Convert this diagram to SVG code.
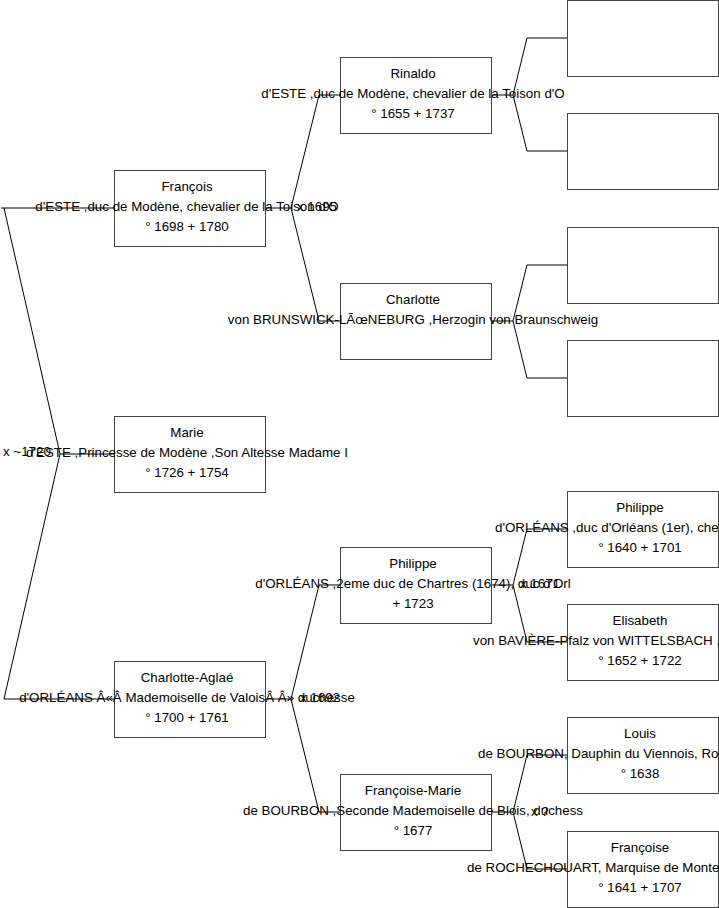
<svg xmlns="http://www.w3.org/2000/svg" width="719" height="908" viewBox="0 0 719 908">
<style>
.box{fill:#fff;stroke:#444;stroke-width:1}
.c{fill:none;stroke:#000;stroke-width:1}
text{font-family:"Liberation Sans",Arial,sans-serif;font-size:13.33px;fill:#000}
.m{text-anchor:middle}
</style>
<rect width="719" height="908" fill="#fff"/>
<g id="connectors">
<path class="c" d="M1,208H114M4,208L60,454L4,699H114M60,454H114"/>
<path class="c" d="M265,208H291M319,95L291,208L319,321M319,95H340M319,321H340"/>
<path class="c" d="M265,699H291M319,585L291,699L319,812M319,585H340M319,812H340"/>
<path class="c" d="M491,95H513M527,38L513,95L527,151M527,38H567M527,151H567"/>
<path class="c" d="M491,321H513M527,265L513,321L527,378M527,265H567M527,378H567"/>
<path class="c" d="M491,585H513M527,529L513,585L527,642M527,529H567M527,642H567"/>
<path class="c" d="M491,812H513M527,755L513,812L527,869M527,755H567M527,869H567"/>
</g>
<g id="marriages">
<text x="3" y="456">x ~1720</text>
<text x="297" y="211">x 1695</text>
<text x="300" y="702">x 1692</text>
<text x="520" y="588">x 1671</text>
<text x="531" y="816">x ?</text>
</g>
<g id="francois">
<rect class="box" x="114.5" y="170.5" width="151" height="76"/>
<text class="m" x="187" y="191">François</text>
<text class="m" x="187" y="211">d'ESTE ,duc de Modène, chevalier de la Toison d'O</text>
<text class="m" x="187" y="231">° 1698 + 1780</text>
</g>
<g id="marie">
<rect class="box" x="114.5" y="416.5" width="151" height="76"/>
<text class="m" x="187" y="437">Marie</text>
<text class="m" x="187" y="457">d'ESTE ,Princesse de Modène ,Son Altesse Madame I</text>
<text class="m" x="187" y="477">° 1726 + 1754</text>
</g>
<g id="charlotte-aglae">
<rect class="box" x="114.5" y="661.5" width="151" height="76"/>
<text class="m" x="187" y="682">Charlotte-Aglaé</text>
<text class="m" x="187" y="702">d'ORLÉANS Â«Â Mademoiselle de ValoisÂ Â» duchesse</text>
<text class="m" x="187" y="722">° 1700 + 1761</text>
</g>
<g id="rinaldo">
<rect class="box" x="340.5" y="57.5" width="151" height="76"/>
<text class="m" x="413" y="78">Rinaldo</text>
<text class="m" x="413" y="98">d'ESTE ,duc de Modène, chevalier de la Toison d'O</text>
<text class="m" x="413" y="118">° 1655 + 1737</text>
</g>
<g id="charlotte">
<rect class="box" x="340.5" y="283.5" width="151" height="76"/>
<text class="m" x="413" y="304">Charlotte</text>
<text class="m" x="413" y="324">von BRUNSWICK-LÃœNEBURG ,Herzogin von Braunschweig</text>
</g>
<g id="philippe2">
<rect class="box" x="340.5" y="547.5" width="151" height="76"/>
<text class="m" x="413" y="568">Philippe</text>
<text class="m" x="413" y="588">d'ORLÉANS ,2eme duc de Chartres (1674), duc d'Orl</text>
<text class="m" x="413" y="608">+ 1723</text>
</g>
<g id="francoise-marie">
<rect class="box" x="340.5" y="774.5" width="151" height="76"/>
<text class="m" x="413" y="795">Françoise-Marie</text>
<text class="m" x="413" y="815">de BOURBON ,Seconde Mademoiselle de Blois, duchess</text>
<text class="m" x="413" y="835">° 1677</text>
</g>
<g id="empty1"><rect class="box" x="567.5" y="0.5" width="151" height="76"/></g>
<g id="empty2"><rect class="box" x="567.5" y="113.5" width="151" height="76"/></g>
<g id="empty3"><rect class="box" x="567.5" y="227.5" width="151" height="76"/></g>
<g id="empty4"><rect class="box" x="567.5" y="340.5" width="151" height="76"/></g>
<g id="philippe1">
<rect class="box" x="567.5" y="491.5" width="151" height="76"/>
<text class="m" x="640" y="512">Philippe</text>
<text x="495" y="532">d'ORLÉANS ,duc d'Orléans (1er), che</text>
<text class="m" x="640" y="552">° 1640 + 1701</text>
</g>
<g id="elisabeth">
<rect class="box" x="567.5" y="604.5" width="151" height="76"/>
<text class="m" x="640" y="625">Elisabeth</text>
<text x="473" y="645">von BAVIÈRE-Pfalz von WITTELSBACH ,</text>
<text class="m" x="640" y="665">° 1652 + 1722</text>
</g>
<g id="louis">
<rect class="box" x="567.5" y="717.5" width="151" height="76"/>
<text class="m" x="640" y="738">Louis</text>
<text x="478" y="758">de BOURBON, Dauphin du Viennois, Ro</text>
<text class="m" x="640" y="778">° 1638</text>
</g>
<g id="francoise">
<rect class="box" x="567.5" y="831.5" width="151" height="76"/>
<text class="m" x="640" y="852">Françoise</text>
<text x="467" y="872">de ROCHECHOUART, Marquise de Monte</text>
<text class="m" x="640" y="892">° 1641 + 1707</text>
</g>
</svg>
